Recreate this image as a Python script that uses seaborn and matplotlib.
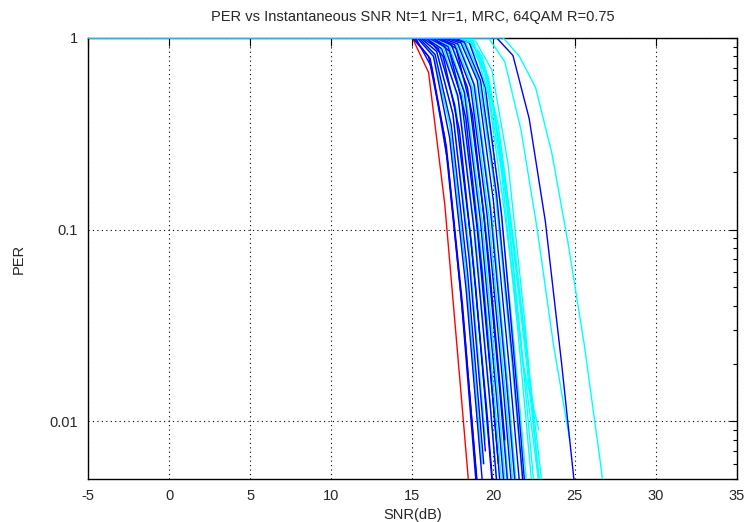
"""
PER vs instantaneous SNR, Nt=1 Nr=1, MRC, 64QAM R=0.75.

Gnuplot-style log plot: one line per channel realisation, red / blue / cyan.
Output: out.png (745x522)
"""

import matplotlib
matplotlib.use("Agg")
import matplotlib.pyplot as plt
import numpy as np
import pandas as pd
import seaborn as sns

# each curve: colour, SNR where it leaves PER=1, PER at the following 1 dB steps
CURVE_COLORS = [
    "red",
    "blue", "blue", "cyan", "blue", "blue", "cyan", "blue", "blue", "cyan",
    "blue", "cyan", "blue", "blue", "cyan", "blue", "cyan", "blue", "cyan",
    "blue", "cyan", "blue", "cyan", "blue", "cyan", "blue", "cyan", "blue",
    "cyan", "blue", "cyan", "cyan", "blue", "cyan", "cyan", "blue", "cyan",
    "cyan", "cyan",
    "cyan", "blue", "cyan",
]
CURVE_START = [
    15.0,
    15.0, 15.1, 15.3, 15.2, 15.3, 15.5, 15.4, 15.5, 15.7,
    15.6, 15.9, 15.8, 15.9, 16.1, 16.0, 16.3, 16.2, 16.5,
    16.3, 16.7, 16.4, 16.9, 16.6, 17.1, 16.7, 17.3, 16.8,
    17.5, 17.0, 17.7, 17.9, 17.2, 18.1, 18.3, 17.5, 18.5,
    18.7, 17.8,
    19.7, 20.2, 20.6,
]
CURVE_PER = [
    [0.66, 0.135, 0.014, 0.0014],
    [0.8, 0.3, 0.045, 0.004],
    [0.78, 0.27, 0.04, 0.0035],
    [0.82, 0.35, 0.06, 0.006],
    [0.7, 0.22, 0.03, 0.003],
    [0.8, 0.3, 0.05, 0.005],
    [0.85, 0.4, 0.08, 0.008],
    [0.82, 0.35, 0.06, 0.006],
    [0.85, 0.4, 0.07, 0.007],
    [0.88, 0.42, 0.08, 0.009],
    [0.88, 0.45, 0.09, 0.011, 0.001],
    [0.9, 0.45, 0.09, 0.01, 0.001],
    [0.88, 0.5, 0.1, 0.012, 0.0012],
    [0.8, 0.33, 0.05, 0.005],
    [0.9, 0.5, 0.1, 0.012, 0.0012],
    [0.9, 0.5, 0.1, 0.012, 0.0012],
    [0.9, 0.5, 0.11, 0.013, 0.0012],
    [0.9, 0.52, 0.11, 0.013, 0.0013],
    [0.9, 0.5, 0.11, 0.013, 0.0012],
    [0.85, 0.38, 0.06, 0.006],
    [0.92, 0.55, 0.12, 0.015, 0.0015],
    [0.92, 0.55, 0.12, 0.014, 0.0014],
    [0.92, 0.55, 0.12, 0.015, 0.0015],
    [0.92, 0.55, 0.12, 0.015, 0.0015],
    [0.94, 0.6, 0.16, 0.022, 0.0025],
    [0.88, 0.4, 0.07, 0.008],
    [0.94, 0.62, 0.17, 0.024, 0.0027],
    [0.93, 0.57, 0.13, 0.016, 0.0016],
    [0.95, 0.65, 0.2, 0.03, 0.0035],
    [0.94, 0.6, 0.14, 0.018, 0.002],
    [0.95, 0.62, 0.18, 0.026, 0.003],
    [0.96, 0.68, 0.22, 0.035, 0.004],
    [0.95, 0.6, 0.15, 0.02, 0.002],
    [0.85, 0.4, 0.1, 0.018, 0.003],
    [0.8, 0.35, 0.08, 0.015, 0.0028],
    [0.95, 0.55, 0.12, 0.013, 0.0012],
    [0.7, 0.25, 0.055, 0.011],
    [0.5, 0.12, 0.025, 0.0055, 0.001],
    [0.93, 0.55, 0.14, 0.02, 0.009],
    [0.75, 0.33, 0.1, 0.025, 0.008],
    [0.81, 0.38, 0.11, 0.02, 0.0032],
    [0.8, 0.55, 0.25, 0.085, 0.025, 0.006, 0.0012],
]

X_MIN, X_MAX = -5, 35
Y_MIN, Y_MAX = 0.005, 1


def main() -> None:
    rows = []
    for i, (start, per) in enumerate(zip(CURVE_START, CURVE_PER)):
        snr = [X_MIN, start] + list(start + np.arange(1, len(per) + 1))
        vals = [1.0, 1.0] + per
        rows += [{"curve": i, "snr": s, "per": p} for s, p in zip(snr, vals)]
    df = pd.DataFrame(rows)
    palette = {i: c for i, c in enumerate(CURVE_COLORS)}

    sns.set_style("white")
    plt.rcParams["font.family"] = ["Liberation Sans", "DejaVu Sans"]
    plt.rcParams["axes.unicode_minus"] = False

    fig = plt.figure(figsize=(7.45, 5.22), dpi=100)
    ax = fig.add_axes([0.118, 0.0824, 0.871, 0.845])
    sns.lineplot(
        data=df, x="snr", y="per", hue="curve", palette=palette,
        hue_order=list(range(len(CURVE_PER))), estimator=None, sort=False,
        linewidth=1.0, legend=False, ax=ax, zorder=3,
    )
    ax.set_yscale("log")
    ax.set_xlim(X_MIN, X_MAX)
    ax.set_ylim(Y_MIN, Y_MAX)
    ax.set_xticks(np.arange(X_MIN, X_MAX + 1, 5))
    ax.set_yticks([0.01, 0.1, 1], labels=["0.01", "0.1", "1"])
    ax.yaxis.set_minor_locator(matplotlib.ticker.LogLocator(base=10, subs=np.arange(2, 10)))
    ax.yaxis.set_minor_formatter(matplotlib.ticker.NullFormatter())
    ax.grid(True, which="major", color="black", linestyle=(0, (1, 3)), linewidth=0.8)
    ax.tick_params(which="both", direction="in", top=True, right=True,
                   labelsize=10.5, color="black", pad=7)
    ax.tick_params(which="major", length=6, width=0.8)
    ax.tick_params(which="minor", length=3, width=0.8)
    for sp in ax.spines.values():
        sp.set_color("black")
        sp.set_linewidth(1.0)

    ax.set_title("PER vs Instantaneous SNR Nt=1 Nr=1, MRC, 64QAM R=0.75",
                 fontsize=10.5, pad=12)
    ax.set_xlabel("SNR(dB)", fontsize=10.5, labelpad=4)
    ax.set_ylabel("PER", fontsize=10.5, labelpad=17)

    fig.savefig("out.png", dpi=100)
    plt.close(fig)


if __name__ == "__main__":
    main()
